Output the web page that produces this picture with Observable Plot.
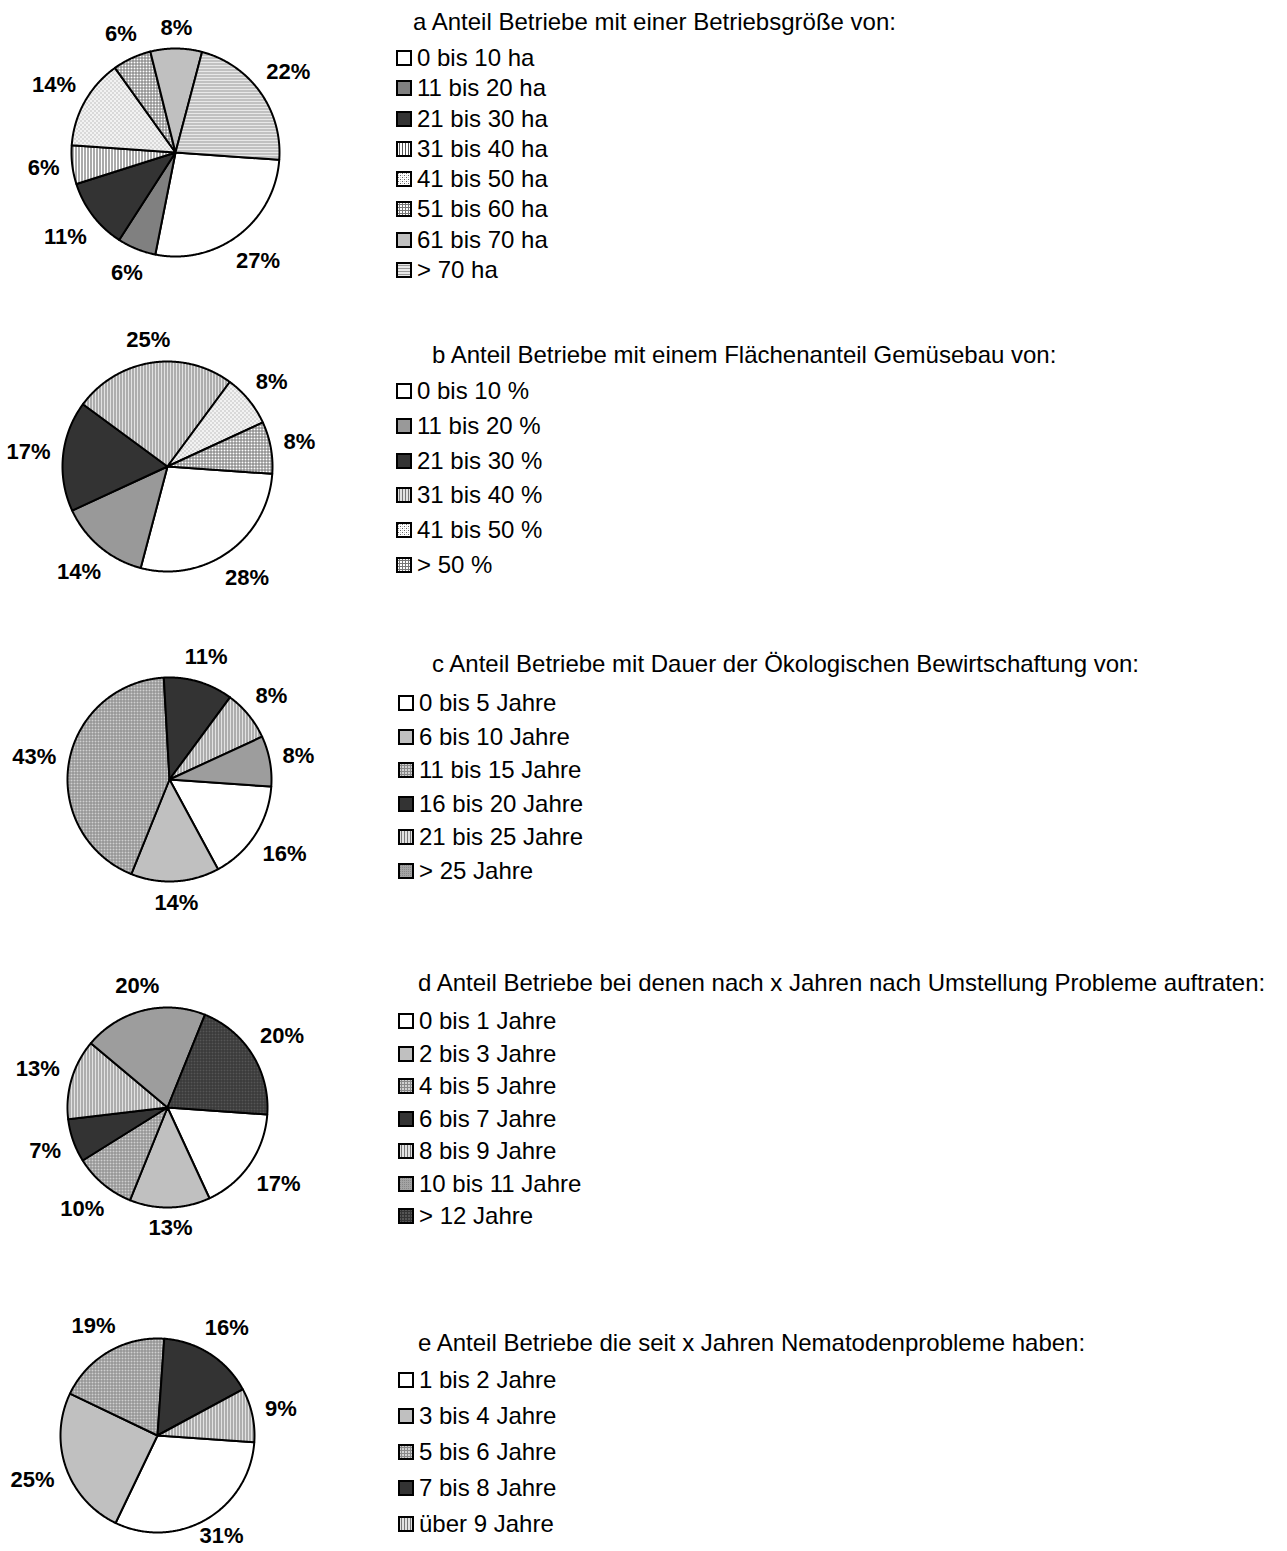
<!DOCTYPE html>
<html><head><meta charset="utf-8">
<script src="https://cdn.jsdelivr.net/npm/d3@7"></script>
<script src="https://cdn.jsdelivr.net/npm/@observablehq/plot@0.6"></script>
<style>
body{margin:0;background:#fff;font-family:Arial,"Liberation Sans",sans-serif;color:#000;}
#page{position:relative;width:1287px;height:1551px;overflow:hidden;}
.pie{position:absolute;}
.title{position:absolute;font-size:24px;white-space:nowrap;line-height:30px;}
.legend{position:absolute;font-size:24px;white-space:nowrap;}
.legend .item{display:flex;align-items:center;}
.legend svg{margin-right:5px;flex:none;}
</style></head>
<body>
<svg width="0" height="0" style="position:absolute">
<defs>
  <pattern id="vlines" width="3" height="3" patternUnits="userSpaceOnUse"><rect width="3" height="3" fill="#fff"/><rect width="1" height="3" fill="#555"/></pattern>
  <pattern id="vlinesg" width="3" height="3" patternUnits="userSpaceOnUse"><rect width="3" height="3" fill="#e2e2e2"/><rect width="1" height="3" fill="#777"/></pattern>
  <pattern id="dots" width="4" height="4" patternUnits="userSpaceOnUse"><rect width="4" height="4" fill="#fff"/><rect width="1" height="1" fill="#666"/><rect x="2" y="2" width="1" height="1" fill="#666"/><rect x="2" y="0" width="1" height="1" fill="#ccc"/><rect x="0" y="2" width="1" height="1" fill="#ccc"/></pattern>
  <pattern id="grid" width="3" height="3" patternUnits="userSpaceOnUse"><rect width="3" height="3" fill="#fff"/><rect width="3" height="1" fill="#777"/><rect width="1" height="3" fill="#777"/></pattern>
  <pattern id="hlines" width="3" height="3" patternUnits="userSpaceOnUse"><rect width="3" height="3" fill="#e8e8e8"/><rect width="3" height="1" fill="#999"/></pattern>
  <pattern id="ggrid" width="3" height="3" patternUnits="userSpaceOnUse"><rect width="3" height="3" fill="#d0d0d0"/><rect width="3" height="1" fill="#888"/><rect width="1" height="3" fill="#888"/></pattern>
  <pattern id="gdots" width="2" height="2" patternUnits="userSpaceOnUse"><rect width="2" height="2" fill="#a4a4a4"/><rect width="1" height="1" fill="#888"/></pattern>
  <pattern id="dgrid" width="3" height="3" patternUnits="userSpaceOnUse"><rect width="3" height="3" fill="#555"/><rect width="3" height="1" fill="#333"/><rect width="1" height="3" fill="#333"/></pattern>
</defs>
</svg>
<div id="page"></div>
<script>
// ---------- data ----------
const titleA = "a Anteil Betriebe mit einer Betriebsgröße von:";
const catsA = ["0 bis 10 ha","11 bis 20 ha","21 bis 30 ha","31 bis 40 ha","41 bis 50 ha","51 bis 60 ha","61 bis 70 ha","> 70 ha"];
const valsA = [27, 6, 11, 6, 14, 6, 8, 22];

const titleB = "b Anteil Betriebe mit einem Flächenanteil Gemüsebau von:";
const catsB = ["0 bis 10 %","11 bis 20 %","21 bis 30 %","31 bis 40 %","41 bis 50 %","> 50 %"];
const valsB = [28, 14, 17, 25, 8, 8];

const titleC = "c Anteil Betriebe mit Dauer der Ökologischen Bewirtschaftung von:";
const catsC = ["0 bis 5 Jahre","6 bis 10 Jahre","11 bis 15 Jahre","16 bis 20 Jahre","21 bis 25 Jahre","> 25 Jahre"];
const valsC = [16, 14, 43, 11, 8, 8];

const titleD = "d Anteil Betriebe bei denen nach x Jahren nach Umstellung Probleme auftraten:";
const catsD = ["0 bis 1 Jahre","2 bis 3 Jahre","4 bis 5 Jahre","6 bis 7 Jahre","8 bis 9 Jahre","10 bis 11 Jahre","> 12 Jahre"];
const valsD = [17, 13, 10, 7, 13, 20, 20];

const titleE = "e Anteil Betriebe die seit x Jahren Nematodenprobleme haben:";
const catsE = ["1 bis 2 Jahre","3 bis 4 Jahre","5 bis 6 Jahre","7 bis 8 Jahre","über 9 Jahre"];
const valsE = [31, 25, 19, 16, 9];

// ---------- styles / layout ----------
const fillsA = ["#fff","#808080","#333","url(#vlines)","url(#dots)","url(#grid)","#c0c0c0","url(#hlines)"];
const fillsB = ["#fff","#999","#333","url(#vlinesg)","url(#dots)","url(#grid)"];
const fillsC = ["#fff","#c0c0c0","url(#ggrid)","#333","url(#vlinesg)","url(#gdots)"];
const fillsD = ["#fff","#c0c0c0","url(#ggrid)","#333","url(#vlinesg)","url(#gdots)","url(#dgrid)"];
const fillsE = ["#fff","#c0c0c0","url(#ggrid)","#333","url(#vlinesg)"];

const charts = [
  {title:titleA, cats:catsA, vals:valsA, fills:fillsA, cx:175, cy:152, r:104, top:0,    H:310, titleX:413, titleY:22,   legX:396, legY0:58,   legStep:30.3},
  {title:titleB, cats:catsB, vals:valsB, fills:fillsB, cx:167, cy:466, r:105, top:310,  H:315, titleX:432, titleY:355,  legX:396, legY0:391,  legStep:34.8},
  {title:titleC, cats:catsC, vals:valsC, fills:fillsC, cx:169, cy:779, r:102, top:625,  H:320, titleX:432, titleY:664,  legX:398, legY0:703,  legStep:33.6},
  {title:titleD, cats:catsD, vals:valsD, fills:fillsD, cx:167, cy:1107,r:100, top:945,  H:345, titleX:418, titleY:983,  legX:398, legY0:1021, legStep:32.5},
  {title:titleE, cats:catsE, vals:valsE, fills:fillsE, cx:157, cy:1435,r:97,  top:1290, H:261, titleX:418, titleY:1343, legX:398, legY0:1380, legStep:36}
];
const W = 380, START = 94, LABEL_FS = 22, PAGE_H = 1551;
const page = document.getElementById("page");

function build(c) {
  const total = d3.sum(c.vals);
  const slices = [], labels = [];
  let a0 = START;
  c.cats.forEach((cat, i) => {
    const a1 = a0 + c.vals[i] / total * 360;
    slices.push({cat, x: 0, y: 0});
    const n = Math.max(2, Math.ceil((a1 - a0) * 2));
    for (let k = 0; k <= n; k++) {
      const t = (a0 + (a1 - a0) * k / n) * Math.PI / 180;
      slices.push({cat, x: Math.sin(t), y: Math.cos(t)});
    }
    slices.push({cat, x: 0, y: 0});
    const m = (a0 + a1) / 2 * Math.PI / 180;
    const txt = c.vals[i] + "%";
    const w = (txt.length - 1) * 0.556 * LABEL_FS + 0.889 * LABEL_FS;
    const h = 0.75 * LABEL_FS;
    const d = (c.r + 12 + (w / 2) * Math.abs(Math.sin(m)) + (h / 2) * Math.abs(Math.cos(m))) / c.r;
    let ly = d * Math.cos(m);
    // keep the label inside the page
    const minY = (c.cy - (PAGE_H - 16)) / c.r;
    if (ly < minY) ly = minY;
    labels.push({x: d * Math.sin(m), y: ly, text: txt});
    a0 = a1;
  });
  const svg = Plot.plot({
    width: W, height: c.H, margin: 0,
    x: {domain: [-c.cx / c.r, (W - c.cx) / c.r], axis: null},
    y: {domain: [(c.cy - c.top - c.H) / c.r, (c.cy - c.top) / c.r], axis: null},
    color: {type: "ordinal", domain: c.cats, range: c.fills},
    style: {background: "transparent", overflow: "visible", fontFamily: "Arial, 'Liberation Sans', sans-serif"},
    marks: [
      Plot.line(slices, {x: "x", y: "y", z: "cat", fill: "cat", stroke: "#000", strokeWidth: 2, strokeLinejoin: "round"}),
      Plot.text(labels, {x: "x", y: "y", text: "text", fontSize: LABEL_FS, fontWeight: "bold", fill: "#000"})
    ]
  });
  svg.classList.add("pie");
  svg.style.left = "0px";
  svg.style.top = c.top + "px";
  page.appendChild(svg);

  const t = document.createElement("div");
  t.className = "title";
  t.textContent = c.title;
  t.style.left = c.titleX + "px";
  t.style.top = (c.titleY - 15) + "px";
  page.appendChild(t);

  const leg = document.createElement("div");
  leg.className = "legend";
  leg.style.left = c.legX + "px";
  leg.style.top = (c.legY0 - c.legStep / 2) + "px";
  c.cats.forEach((cat, i) => {
    const it = document.createElement("div");
    it.className = "item";
    it.style.height = c.legStep + "px";
    it.innerHTML = `<svg width="16" height="16"><rect x="1" y="1" width="14" height="14" fill="${c.fills[i]}" stroke="#000" stroke-width="2"/></svg>`;
    const s = document.createElement("span");
    s.textContent = cat;
    it.appendChild(s);
    leg.appendChild(it);
  });
  page.appendChild(leg);
}
charts.forEach(build);
</script>
</body></html>
